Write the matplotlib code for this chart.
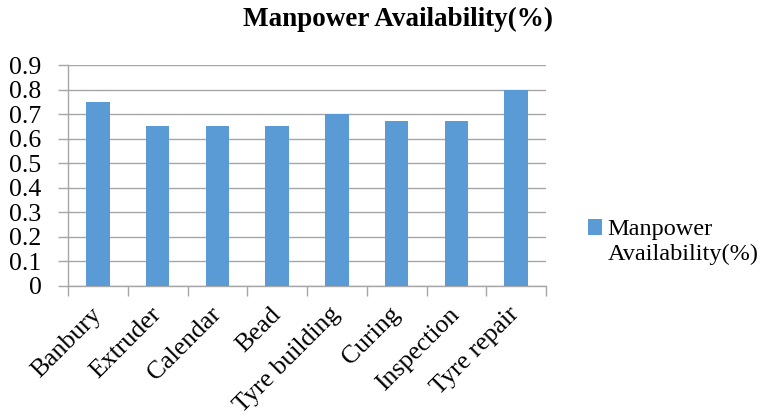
import numpy as np
import matplotlib
matplotlib.use("Agg")
import matplotlib.pyplot as plt

categories = ["Banbury", "Extruder", "Calendar", "Bead", "Tyre building",
              "Curing", "Inspection", "Tyre repair"]
availability = [0.75, 0.65, 0.65, 0.65, 0.70, 0.67, 0.67, 0.80]
yticks = [0, 0.1, 0.2, 0.3, 0.4, 0.5, 0.6, 0.7, 0.8, 0.9]
yticklabels = ["0", "0.1", "0.2", "0.3", "0.4", "0.5", "0.6", "0.7", "0.8", "0.9"]

plt.rcParams['font.family'] = ['Liberation Serif', 'DejaVu Serif']
grid_c = '#a6a6a6'

fig = plt.figure(figsize=(7.75, 4.2), dpi=100)
ax = fig.add_axes([68/775, 1-286/420, (546-68)/775, (286-65)/420])

x = np.arange(len(categories))
ax.bar(x, availability, width=0.39, color='#5b9bd5', zorder=3,
       label="Manpower\nAvailability(%)")

ax.set_xlim(-0.5, len(categories)-0.5)
ax.set_ylim(0, 0.9)
ax.set_yticks(yticks)
ax.set_yticklabels(yticklabels, fontsize=18.5)
ax.yaxis.grid(True, color=grid_c, lw=1, zorder=0)
ax.tick_params(axis='y', length=7, color=grid_c, width=1, pad=12)

# category labels at centres, tick marks at boundaries
ax.set_xticks(x)
ax.set_xticklabels(categories, fontsize=18.5, rotation=45, ha='right',
                   va='center', rotation_mode='anchor')
ax.tick_params(axis='x', length=0, pad=18)
ax.set_xticks(np.arange(len(categories)+1)-0.5, minor=True)
ax.tick_params(axis='x', which='minor', length=7, color=grid_c, width=1)

for s in ['top', 'right']:
    ax.spines[s].set_visible(False)
for s in ['left', 'bottom']:
    ax.spines[s].set_color(grid_c)
    ax.spines[s].set_linewidth(1)

fig.text(398/775, 1-19/420, "Manpower Availability(%)", ha='center',
         va='center', fontsize=19.5, fontweight='bold')

leg = fig.legend(loc='center left', bbox_to_anchor=(566/775, 1-242/420),
                 frameon=False, fontsize=17.5, handlelength=0.6,
                 handleheight=0.6, handletextpad=0.2, labelspacing=0)
try:
    for col in leg._legend_handle_box.get_children():
        for item in col.get_children():
            item.align = 'top'
except Exception:
    pass

fig.savefig("out.png", dpi=100)
